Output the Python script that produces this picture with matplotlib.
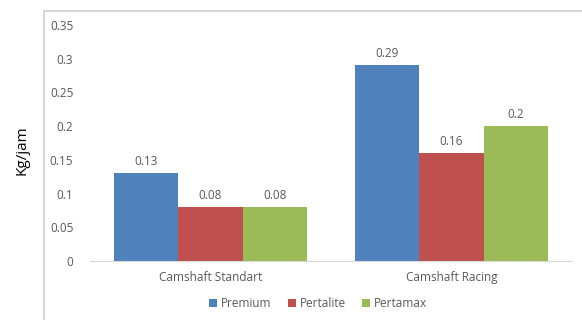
import numpy as np
import matplotlib.pyplot as plt
from matplotlib.lines import Line2D

# data
categories = ['Camshaft Standart', 'Camshaft Racing']
series = ['Premium', 'Pertalite', 'Pertamax']
premium = [0.13, 0.29]
pertalite = [0.08, 0.16]
pertamax = [0.08, 0.2]
yticks = [0, 0.05, 0.1, 0.15, 0.2, 0.25, 0.3, 0.35]

colors = ['#4F81BD', '#C0504D', '#9BBB59']
txt = '#595959'
plt.rcParams['font.family'] = ['Open Sans', 'DejaVu Sans']

fig = plt.figure(figsize=(5.82, 3.2), dpi=100)
# chart area border (light grey, top and left)
fig.lines.append(Line2D([44 / 582, 44 / 582, 1], [0, 1 - 11 / 320, 1 - 11 / 320],
                        transform=fig.transFigure, color='#D0D0D0', linewidth=1.2))

ax = fig.add_axes([90 / 582, (320 - 261) / 320, (572 - 90) / 582, (261 - 25) / 320])

x = np.arange(len(categories))
w = 0.8 / 3
for i, vals in enumerate([premium, pertalite, pertamax]):
    bars = ax.bar(x + (i - 1) * w, vals, w, color=colors[i], label=series[i])
    for b, v in zip(bars, vals):
        ax.text(b.get_x() + b.get_width() / 2, v + 0.008, f'{v:g}',
                ha='center', va='bottom', fontsize=8.5, color=txt)

ax.set_xlim(-0.5, 1.5)
ax.set_ylim(0, 0.35)
ax.set_yticks(yticks)
ax.set_yticklabels([f'{t:g}' for t in yticks])
ax.set_xticks(x)
ax.set_xticklabels(categories)
ax.tick_params(axis='both', length=0, labelsize=8.5, colors=txt)
ax.tick_params(axis='y', pad=12)
ax.tick_params(axis='x', pad=7)
for s in ['top', 'right', 'left']:
    ax.spines[s].set_visible(False)
ax.spines['bottom'].set_color('#D9D9D9')

fig.text(22 / 582, 1 - 150 / 320, 'Kg/jam', rotation=90, ha='center', va='center',
         fontsize=11, color='black')

ax.legend(loc='center', bbox_to_anchor=(0.473, -0.18), ncol=3, frameon=False,
          fontsize=8.5, labelcolor=txt, handlelength=0.7, handleheight=0.7,
          handletextpad=0.3, columnspacing=1.4)

fig.savefig('out.png', dpi=100)
